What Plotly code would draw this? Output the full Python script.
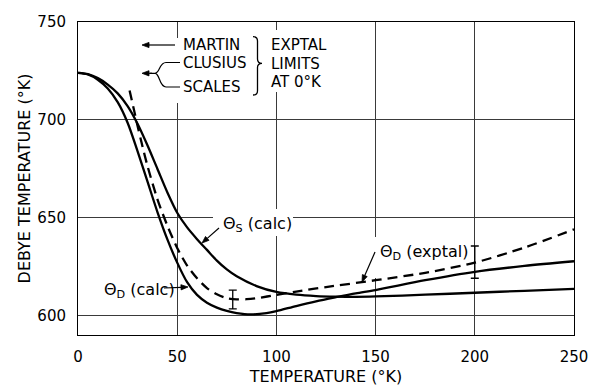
import math
import plotly.graph_objects as go

# ---------------- data ----------------
T_dcalc = [0, 5, 10, 15, 20, 25, 30, 35, 40, 45, 50, 55, 60, 65, 70, 75, 80, 87, 95, 100, 110, 120, 130, 140, 150, 175, 200, 225, 250]
theta_d_calc = [724, 723.2, 720.5, 716, 709, 698.5, 684, 668.5, 653, 639, 627, 617, 610.5, 606.5, 604, 602.3, 601.2, 600.5, 601.2, 602.2, 604.8, 607.2, 609.3, 611.3, 613, 618, 622.3, 625.3, 627.7]

T_scalc = [0, 5, 10, 15, 20, 25, 30, 35, 40, 45, 50, 55, 60, 65, 70, 75, 80, 90, 100, 110, 120, 130, 140, 150, 175, 200, 225, 250]
theta_s_calc = [724, 723.3, 721.3, 718, 713.5, 707, 698, 687, 675, 663, 652.5, 645, 639, 633.5, 628, 623.5, 620, 615, 612, 610.6, 609.9, 609.6, 609.5, 609.7, 610.6, 611.6, 612.6, 613.6]

T_dexp = [26, 28, 30, 32, 35, 40, 45, 50, 55, 60, 65, 70, 75, 80, 85, 90, 100, 110, 125, 150, 175, 200, 225, 250]
theta_d_exp = [715, 706, 697, 688.5, 676.5, 659.5, 646, 634.5, 625.5, 619, 614, 610.8, 608.8, 608.2, 608.3, 608.8, 610.5, 612.2, 614.5, 618, 621.8, 627, 634.7, 644]

err_T = [78, 200]
err_lo = [603.4, 619.0]
err_hi = [612.9, 635.5]

x_ticks = [0, 50, 100, 150, 200, 250]
y_ticks = [600, 650, 700, 750]
x_range = [0, 250]
y_range = [590, 750]

# ---------------- layout geometry ----------------
W, H = 590, 386
L, R, TOP, B = 78, 574, 22, 335
FONT = "DejaVu Sans"


def dx(px):
    return x_range[0] + (px - L) / (R - L) * (x_range[1] - x_range[0])


def dy(py):
    return y_range[0] + (B - py) / (B - TOP) * (y_range[1] - y_range[0])


def p(px, py):
    return f"{dx(px):.3f},{dy(py):.3f}"


fig = go.Figure()

line_style = dict(color="black", width=2.3, shape="spline", smoothing=0.8)
fig.add_trace(go.Scatter(x=T_dcalc, y=theta_d_calc, mode="lines", line=line_style, hoverinfo="skip"))
fig.add_trace(go.Scatter(x=T_scalc, y=theta_s_calc, mode="lines", line=line_style, hoverinfo="skip"))
fig.add_trace(go.Scatter(x=T_dexp, y=theta_d_exp, mode="lines",
                         line=dict(color="black", width=2.3, dash="10px,6px", shape="spline", smoothing=0.8),
                         hoverinfo="skip"))

err_c = [(a + b) / 2 for a, b in zip(err_lo, err_hi)]
err_h = [(b - a) / 2 for a, b in zip(err_lo, err_hi)]
fig.add_trace(go.Scatter(x=err_T, y=err_c, mode="markers",
                         marker=dict(size=1, color="black"),
                         error_y=dict(type="data", array=err_h, visible=True, color="black", thickness=1.3, width=4),
                         hoverinfo="skip"))

shapes = []
# white patches that interrupt grid lines behind labels
for (x0, y0, x1, y1) in [(168, 38, 252, 103), (266, 30, 340, 92), (213, 209, 293, 236),
                         (370, 237, 460, 263), (370, 263, 382, 278)]:
    shapes.append(dict(type="rect", xref="x", yref="y", x0=dx(x0), x1=dx(x1), y0=dy(y1), y1=dy(y0),
                       fillcolor="white", line=dict(width=0), layer="between"))

# brace }
brace = (f"M {p(253, 36.7)} Q {p(257.5, 36.7)} {p(257.5, 41)} L {p(257.5, 59)} "
         f"Q {p(257.5, 63.3)} {p(262, 63.3)} Q {p(257.5, 63.3)} {p(257.5, 67.5)} "
         f"L {p(257.5, 91)} Q {p(257.5, 95)} {p(253, 95)}")
shapes.append(dict(type="path", xref="x", yref="y", path=brace, line=dict(color="black", width=1.3)))

# fork for CLUSIUS / SCALES
fork = (f"M {p(150, 73.3)} L {p(155, 73.3)} C {p(160, 73.3)} {p(159, 62.5)} {p(166, 62.5)} L {p(180, 62.5)} "
        f"M {p(155, 73.3)} C {p(160, 73.3)} {p(159, 87)} {p(166, 87)} L {p(180, 87)}")
shapes.append(dict(type="path", xref="x", yref="y", path=fork, line=dict(color="black", width=1.2)))


def arrow(tx, ty, hx, hy, hl=7.0, hw=2.6):
    ln = math.hypot(hx - tx, hy - ty)
    ux, uy = (hx - tx) / ln, (hy - ty) / ln
    bx, by = hx - hl * ux, hy - hl * uy
    px_, py_ = -uy, ux
    shapes.append(dict(type="line", xref="x", yref="y", x0=dx(tx), y0=dy(ty), x1=dx(bx), y1=dy(by),
                       line=dict(color="black", width=1.2)))
    tri = (f"M {p(hx, hy)} L {p(bx + hw * px_, by + hw * py_)} "
           f"L {p(bx - hw * px_, by - hw * py_)} Z")
    shapes.append(dict(type="path", xref="x", yref="y", path=tri, fillcolor="black",
                       line=dict(color="black", width=0.8)))


ann = []


def text(px, py, s, anchor="left", size=16):
    ann.append(dict(x=dx(px), y=dy(py), xref="x", yref="y", text=s, showarrow=False,
                    xanchor=anchor, yanchor="middle", font=dict(family=FONT, size=size, color="black")))


text(181, 44.5, "MARTIN", size=15)
text(181, 63, "CLUSIUS", size=15)
text(181, 87, "SCALES", size=15)
text(269, 45, "EXPTAL", size=15)
text(269, 63.5, "LIMITS", size=15)
text(269, 82, "AT 0°K", size=15)
arrow(175, 45, 142, 45)
arrow(152, 73.3, 142, 73.3)

text(221, 224, "Θ<sub>S</sub> (calc)")
arrow(219, 228, 202, 243)
text(102, 290, "Θ<sub>D</sub> (calc)")
arrow(164, 288, 188, 287)
text(378, 252, "Θ<sub>D</sub> (exptal)")
arrow(375, 252, 362, 282)

axis_common = dict(showgrid=True, gridcolor="#3a3a3a", gridwidth=1, showline=True, linecolor="black",
                   linewidth=1, mirror=True, ticks="", zeroline=False, automargin=False,
                   tickfont=dict(family=FONT, size=15, color="black"))

fig.update_layout(
    width=W, height=H,
    margin=dict(l=L, r=W - R, t=TOP, b=H - B, autoexpand=False),
    paper_bgcolor="white", plot_bgcolor="white",
    showlegend=False,
    shapes=shapes, annotations=ann,
    xaxis=dict(range=x_range, tickvals=x_ticks, ticklabelstandoff=8,
               title=dict(text="TEMPERATURE (°K)", font=dict(family=FONT, size=16, color="black"), standoff=6),
               **axis_common),
    yaxis=dict(range=y_range, tickvals=y_ticks, ticklabelstandoff=8,
               title=dict(text="DEBYE TEMPERATURE (°K)", font=dict(family=FONT, size=16, color="black"), standoff=2),
               **axis_common),
)

fig.write_html("out.html")
